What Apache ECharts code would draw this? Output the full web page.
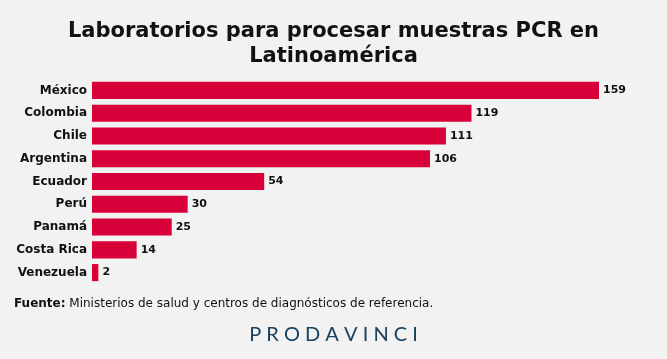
<!DOCTYPE html>
<html><head><meta charset="utf-8">
<script src="https://cdn.jsdelivr.net/npm/echarts@6/dist/echarts.min.js"></script>
<style>html,body{margin:0;padding:0;background:#f2f2f2;}#c{width:667px;height:359px;}</style>
</head><body><div id="c"></div>
<script>
const categories = ['México','Colombia','Chile','Argentina','Ecuador','Perú','Panamá','Costa Rica','Venezuela'];
const values = [159,119,111,106,54,30,25,14,2];
const titleText = 'Laboratorios para procesar muestras PCR en\nLatinoamérica';
const sourceLabel = 'Fuente:';
const sourceText = 'Ministerios de salud y centros de diagnósticos de referencia.';
const brand = 'PRODAVINCI';

const chart = echarts.init(document.getElementById('c'), null, {renderer:'canvas'});
chart.setOption({
  backgroundColor:'#f2f2f2',
  animation:false,
  title:{
    text:titleText, left:'center', top:14,
    textStyle:{fontFamily:'DejaVu Sans', fontWeight:'bold', fontSize:21, color:'#111', lineHeight:25}
  },
  grid:{left:92, top:79, width:507, height:205, containLabel:false},
  xAxis:{type:'value', min:0, max:159, show:false},
  yAxis:{type:'category', data:categories, inverse:true,
    axisLine:{show:false}, axisTick:{show:false},
    axisLabel:{fontFamily:'DejaVu Sans', fontWeight:'bold', fontSize:12, color:'#111', margin:5}},
  series:[{type:'bar', data:values, barCategoryGap:'25%',
    itemStyle:{color:'#d80038'},
    label:{show:true, position:'right', distance:4, fontFamily:'DejaVu Sans', fontWeight:'bold', fontSize:11, color:'#111'}
  }],
  graphic:[
    {type:'text', left:14, top:298, style:{
      text:'{b|'+sourceLabel+'} '+sourceText,
      font:'12px "DejaVu Sans"', fill:'#111',
      rich:{b:{fontFamily:'DejaVu Sans', fontWeight:'bold', fontSize:12, fill:'#111'}}
    }},
    {type:'text', left:'center', top:325, style:{
      text:brand.split('').join(' '), font:'400 20px Lato', fill:'#17415f'
    }}
  ]
});
</script></body></html>
